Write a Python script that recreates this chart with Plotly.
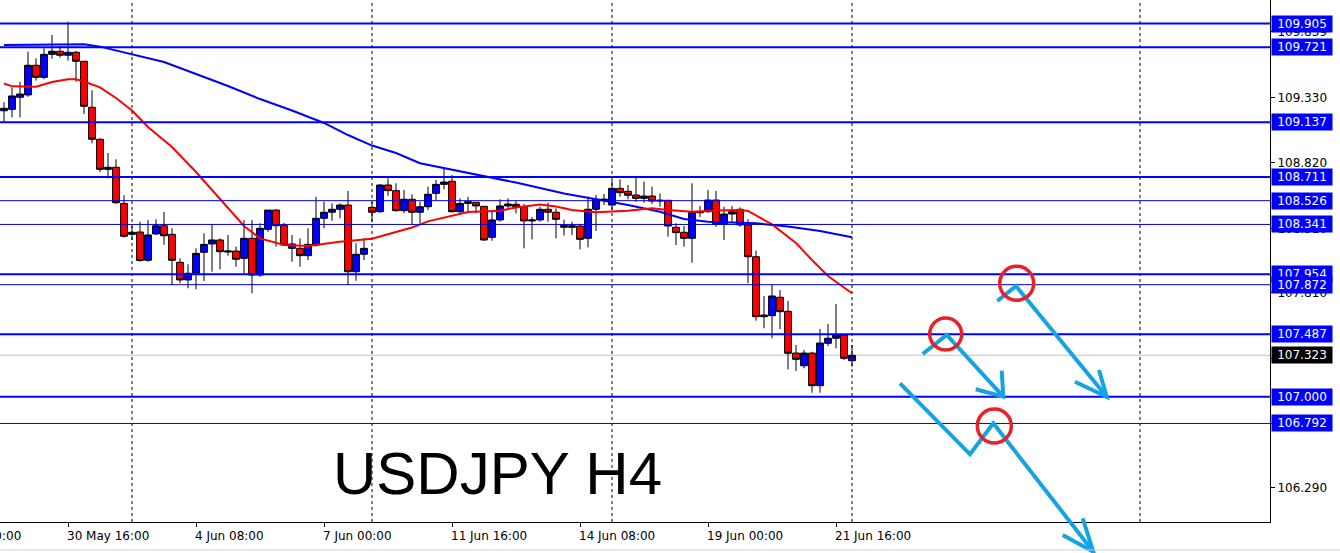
import plotly.graph_objects as go

# ---------------- data ----------------
candle_idx = list(range(107))
opens = [109.226,109.237,109.331,109.349,109.580,109.486,109.665,109.689,109.658,109.681,
         109.611,109.253,109.004,108.770,108.786,108.505,108.264,108.282,108.062,108.267,
         108.331,108.264,108.046,107.909,107.961,108.124,108.189,108.220,108.126,108.134,
         108.077,108.233,107.947,108.303,108.453,108.332,108.155,108.155,108.098,108.181,
         108.389,108.436,108.459,108.492,107.973,108.109,108.474,108.440,108.648,108.604,
         108.448,108.537,108.436,108.479,108.583,108.653,108.677,108.440,108.505,108.513,
         108.482,108.241,108.376,108.485,108.498,108.479,108.368,108.376,108.459,108.436,
         108.333,108.331,108.329,108.233,108.459,108.531,108.492,108.622,108.599,108.570,
         108.544,108.562,108.523,108.529,108.319,108.280,108.233,108.432,108.440,108.531,
         108.342,108.422,108.459,108.337,108.090,107.623,107.631,107.774,107.665,107.340,
         107.241,107.340,107.086,107.416,107.455,107.480,107.280]
highs = [109.292,109.408,109.452,109.686,109.634,109.712,109.816,109.730,109.919,109.691,
         109.611,109.385,109.011,108.897,108.848,108.568,108.329,108.362,108.376,108.381,
         108.438,108.311,108.077,108.031,108.155,108.272,108.344,108.233,108.259,108.168,
         108.376,108.376,108.350,108.453,108.459,108.354,108.259,108.233,108.311,108.557,
         108.518,108.505,108.505,108.601,108.194,108.235,108.518,108.656,108.700,108.661,
         108.609,108.576,108.518,108.635,108.687,108.778,108.726,108.544,108.557,108.513,
         108.482,108.453,108.537,108.544,108.526,108.500,108.397,108.479,108.510,108.467,
         108.379,108.362,108.344,108.557,108.570,108.578,108.687,108.692,108.648,108.708,
         108.674,108.635,108.583,108.529,108.350,108.329,108.661,108.485,108.609,108.601,
         108.479,108.485,108.474,108.381,108.137,107.784,107.870,107.831,107.745,107.403,
         107.364,107.350,107.527,107.566,107.722,107.488,107.403]
lows = [109.136,109.175,109.175,109.335,109.460,109.471,109.631,109.639,109.616,109.452,
        109.201,108.973,108.747,108.700,108.502,108.238,108.220,108.051,108.051,108.259,
        108.183,107.870,107.883,107.844,107.836,107.901,107.973,107.992,108.098,108.012,
        107.961,107.805,107.934,108.284,108.168,108.173,108.051,108.012,108.064,108.168,
        108.311,108.370,108.389,107.870,107.903,108.064,108.362,108.432,108.565,108.440,
        108.428,108.337,108.350,108.453,108.526,108.615,108.436,108.414,108.440,108.428,
        108.214,108.214,108.362,108.453,108.428,108.155,108.225,108.362,108.362,108.233,
        108.255,108.259,108.147,108.163,108.290,108.492,108.453,108.557,108.537,108.518,
        108.510,108.500,108.479,108.246,108.181,108.168,108.043,108.399,108.432,108.323,
        108.220,108.362,108.323,107.883,107.592,107.533,107.455,107.527,107.213,107.200,
        107.221,107.031,107.031,107.395,107.377,107.286,107.234]
closes = [109.245,109.341,109.356,109.580,109.486,109.665,109.689,109.658,109.681,109.611,
          109.261,109.004,108.770,108.786,108.510,108.249,108.280,108.060,108.259,108.331,
          108.253,108.062,107.909,107.961,108.116,108.186,108.220,108.129,108.134,108.070,
          108.233,107.947,108.311,108.453,108.331,108.181,108.189,108.098,108.186,108.389,
          108.436,108.459,108.492,107.973,108.109,108.155,108.436,108.648,108.604,108.448,
          108.537,108.436,108.479,108.576,108.653,108.671,108.440,108.505,108.518,108.485,
          108.220,108.376,108.485,108.500,108.479,108.368,108.376,108.459,108.436,108.381,
          108.319,108.319,108.225,108.459,108.537,108.537,108.622,108.588,108.568,108.544,
          108.562,108.523,108.529,108.329,108.277,108.233,108.434,108.440,108.531,108.342,
          108.422,108.440,108.337,108.090,107.623,107.636,107.784,107.662,107.338,107.291,
          107.340,107.086,107.418,107.455,107.480,107.299,107.323]

ma_fast_idx = [0,1,4,6,8,9,10,12,14,16,18,21,24,27,30,32,35,38,42,46,48,51,53,56,58,
               62,64,67,69,71,74,78,81,83,86,89,92,93,96,99,101,103,105,106]
ma_fast = [109.438,109.416,109.413,109.450,109.471,109.471,109.454,109.408,109.325,109.228,
           109.099,108.944,108.749,108.543,108.329,108.232,108.181,108.173,108.207,108.230,
           108.267,108.317,108.365,108.407,108.438,108.448,108.473,108.496,108.481,108.453,
           108.436,108.448,108.467,108.453,108.440,108.450,108.453,108.446,108.341,108.197,
           108.064,107.940,107.850,107.805]
ma_slow_idx = [0,6,10,12,16,20,24,28,32,36,40,43,46,49,52,60,64,70,74,78,82,85,88,94,98,102,106]
ma_slow = [109.738,109.743,109.743,109.725,109.664,109.605,109.512,109.419,109.317,109.228,
           109.131,109.037,108.955,108.897,108.817,108.718,108.667,108.582,108.539,108.492,
           108.440,108.383,108.362,108.350,108.325,108.290,108.241]

level_prices = [109.905,109.721,109.137,108.711,108.526,108.341,107.954,107.872,107.487,107.000,106.792]
level_thick  = [True,True,True,True,False,False,True,False,True,True,False]
bid_price = 107.323

price_ticks = [109.839,109.330,108.820,108.310,107.810,107.300,106.790,106.290]
time_tick_idx = [-8,8,24,40,56,72,88,104]
time_tick_labels = ["28 May 00:00","30 May 16:00","4 Jun 08:00","7 Jun 00:00",
                    "11 Jun 16:00","14 Jun 08:00","19 Jun 00:00","21 Jun 16:00"]
vgrid_idx = [16,46,76,106,142]

# ---------------- layout constants ----------------
W, H = 1340, 553
PLOT_W, PLOT_H = 1270, 522
X_RANGE = [-0.5, 158.25]
Y_RANGE = [106.025, 110.088]
FONT = "DejaVu Sans"

def px(x):
    return x / PLOT_W

def py(y):
    return 1 - y / PLOT_H

def idx_to_paper(i):
    return (i - X_RANGE[0]) / (X_RANGE[1] - X_RANGE[0])

fig = go.Figure()
fig.add_trace(go.Candlestick(
    x=candle_idx, open=opens, high=highs, low=lows, close=closes,
    increasing=dict(line=dict(color="black", width=1), fillcolor="#0000ff"),
    decreasing=dict(line=dict(color="black", width=1), fillcolor="#ff0000"),
    whiskerwidth=0, showlegend=False, hoverinfo="skip"))
fig.add_trace(go.Scatter(x=ma_slow_idx, y=ma_slow, mode="lines",
                         line=dict(color="#0000ff", width=2), showlegend=False, hoverinfo="skip"))
fig.add_trace(go.Scatter(x=ma_fast_idx, y=ma_fast, mode="lines",
                         line=dict(color="#ff0000", width=2), showlegend=False, hoverinfo="skip"))

shapes = []
for gi in vgrid_idx:
    shapes.append(dict(type="line", xref="x", yref="paper", x0=gi, x1=gi, y0=0, y1=1,
                       line=dict(color="black", width=1, dash="3px,3px"), layer="below"))
shapes.append(dict(type="line", xref="paper", yref="y", x0=0, x1=1, y0=bid_price, y1=bid_price,
                   line=dict(color="#c0c0c0", width=1), layer="below"))
for p, thick in zip(level_prices, level_thick):
    shapes.append(dict(type="line", xref="paper", yref="y", x0=0, x1=1, y0=p, y1=p,
                       line=dict(color="#0000ff" if thick else "#0000d0", width=2 if thick else 1),
                       layer="above"))

# hand-drawn trade idea arrows and circles (pixel positions on the chart)
arrow_color = "#14a3e3"
arrows = [
    [(922.7, 354), (946.7, 335), (1003.3, 396.7)],
    [(975.7, 389.3), (1003.3, 396.7), (1001.7, 370.7)],
    [(997.3, 301), (1016, 286), (1106.7, 396.7)],
    [(1075, 381.7), (1106.7, 396.7), (1099, 370)],
    [(900, 383.3), (970, 454.3), (993.3, 423.3), (1093.3, 551.7)],
    [(1062.7, 535), (1093.3, 551.7), (1082.7, 518.3)],
]
for poly in arrows:
    path = "M " + " L ".join(f"{px(a):.5f},{py(b):.5f}" for a, b in poly)
    shapes.append(dict(type="path", xref="paper", yref="paper", path=path,
                       line=dict(color=arrow_color, width=4), layer="above"))
circles = [(945.7, 334, 16), (1016.7, 283.3, 17), (994.3, 426, 17)]
for cx, cy, r in circles:
    shapes.append(dict(type="circle", xref="paper", yref="paper",
                       x0=px(cx - r), x1=px(cx + r), y0=py(cy + r), y1=py(cy - r),
                       line=dict(color="#e8202a", width=3.5), layer="above"))
# bottom scrollbar line
shapes.append(dict(type="line", xref="paper", yref="paper", x0=0, x1=px(W), y0=py(550), y1=py(550),
                   line=dict(color="#d0d0d0", width=1)))

annotations = []
for p in level_prices:
    annotations.append(dict(xref="paper", yref="y", x=1, y=p, xanchor="left", yanchor="middle",
                            xshift=1, text=f"{p:.3f}", showarrow=False, bgcolor="#0000ff",
                            font=dict(color="white", family=FONT, size=12),
                            width=58, height=14, borderpad=1, align="center"))
annotations.append(dict(xref="paper", yref="y", x=1, y=bid_price, xanchor="left", yanchor="middle",
                        xshift=1, text=f"{bid_price:.3f}", showarrow=False, bgcolor="#000000",
                        font=dict(color="white", family=FONT, size=12),
                        width=58, height=14, borderpad=1, align="center"))
for ti, lab in zip(time_tick_idx, time_tick_labels):
    annotations.append(dict(xref="paper", yref="paper", x=idx_to_paper(ti), y=py(536),
                            xanchor="left", yanchor="middle", xshift=-3, text=lab, showarrow=False,
                            font=dict(color="black", family=FONT, size=12)))
annotations.append(dict(xref="paper", yref="paper", x=px(331), y=py(473.5), xanchor="left",
                        yanchor="middle", text="USDJPY H4", showarrow=False,
                        font=dict(color="black", family="Liberation Sans, Arial", size=60)))

fig.update_layout(
    width=W, height=H,
    margin=dict(l=0, r=W - PLOT_W, t=0, b=H - PLOT_H),
    paper_bgcolor="white", plot_bgcolor="white",
    font=dict(family=FONT, size=12, color="black"),
    shapes=shapes, annotations=annotations,
    showlegend=False, boxgap=0.15, boxgroupgap=0.0,
    xaxis=dict(range=X_RANGE, showgrid=False, zeroline=False, showline=True,
               linecolor="black", linewidth=1, ticks="outside", ticklen=4, tickcolor="black",
               tickvals=[t for t in time_tick_idx if t >= 0], showticklabels=False,
               rangeslider=dict(visible=False), fixedrange=True),
    yaxis=dict(range=Y_RANGE, side="right", showgrid=False, zeroline=False, showline=True,
               linecolor="black", linewidth=1, ticks="outside", ticklen=4, tickcolor="black",
               tickvals=price_ticks, ticktext=[f"{t:.3f}" for t in price_ticks],
               tickfont=dict(family=FONT, size=12, color="black"), fixedrange=True),
)

fig.write_html("out.html",
               config={"displayModeBar": False, "staticPlot": True},
               post_script="document.body.style.margin='0px';document.body.style.overflow='hidden';")
